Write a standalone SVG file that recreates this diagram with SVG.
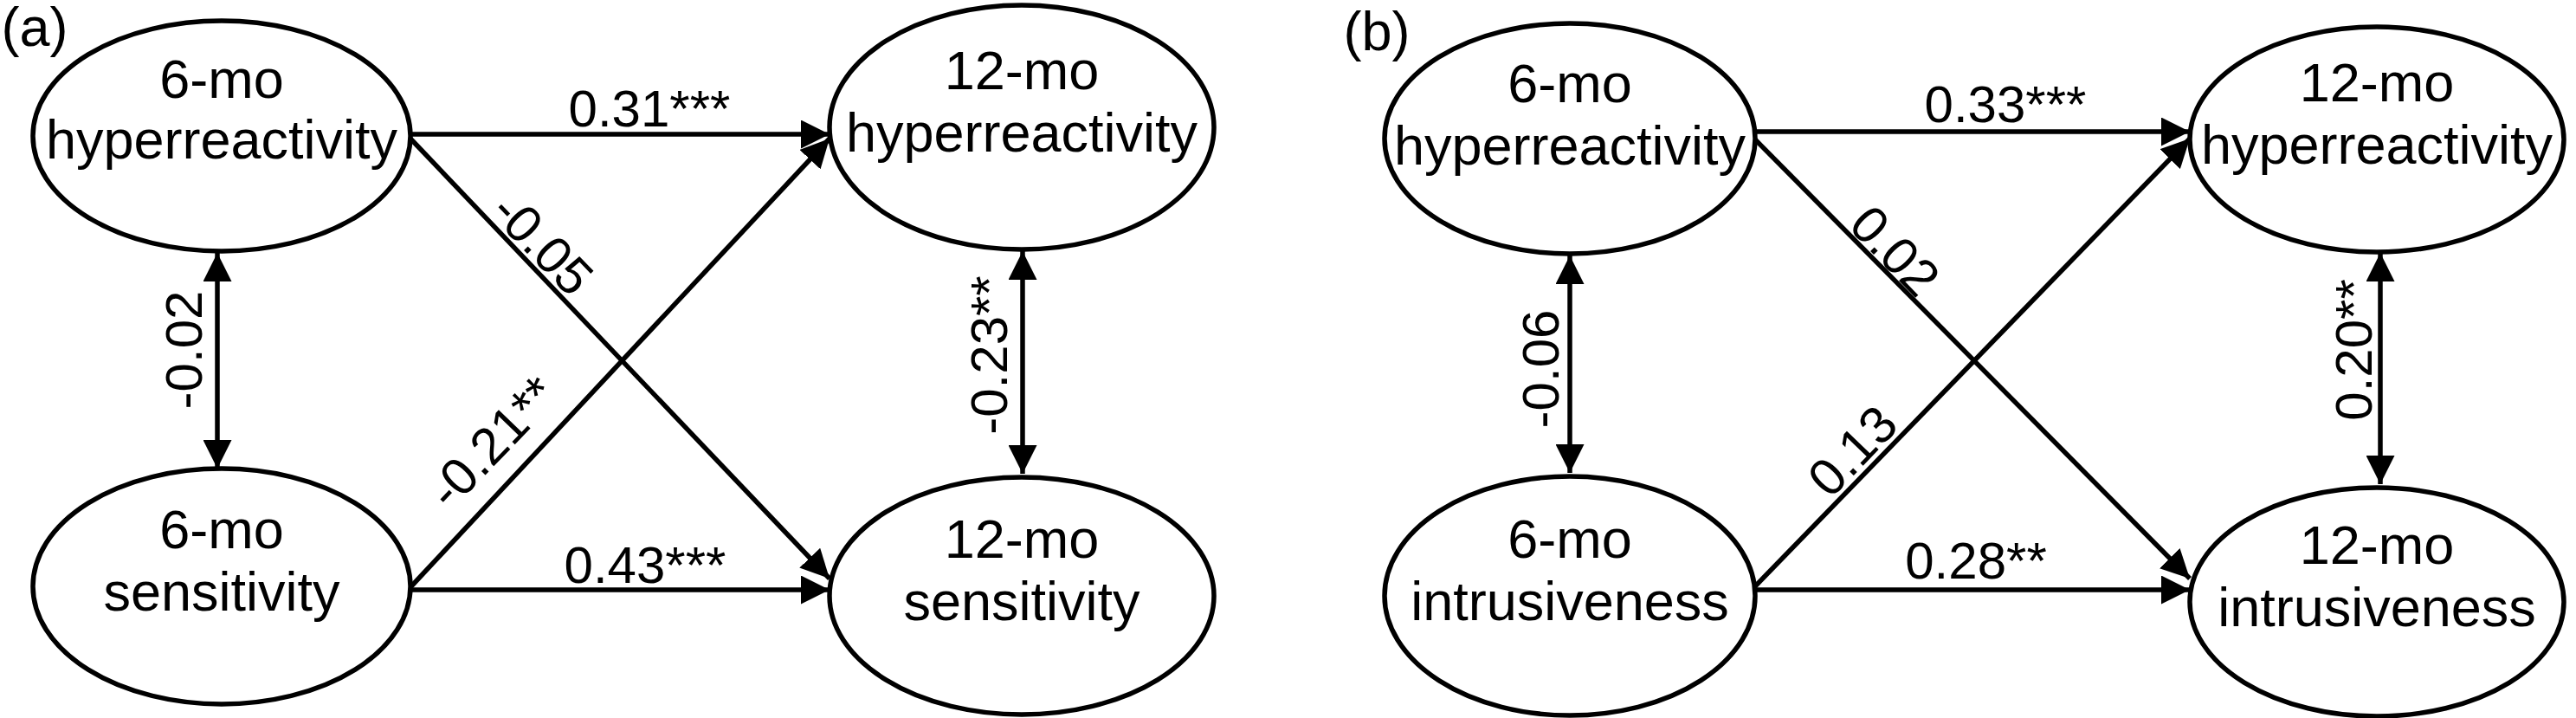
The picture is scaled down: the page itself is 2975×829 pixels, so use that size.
<svg xmlns="http://www.w3.org/2000/svg" width="2975" height="829" viewBox="0 0 2975 829">
<style>
.n{fill:#fff;stroke:#000;stroke-width:5.5}
.t{font-family:"Liberation Sans",Arial,sans-serif;font-size:63px;fill:#000;text-anchor:middle}
.l{font-family:"Liberation Sans",Arial,sans-serif;font-size:60px;fill:#000;text-anchor:middle}
.c{stroke:#000;stroke-width:5.5;fill:none}
</style>
<defs>
<marker id="a" viewBox="0 0 10 10" refX="10" refY="5" markerWidth="6" markerHeight="6" markerUnits="strokeWidth" orient="auto-start-reverse"><path d="M0,0L10,5L0,10z" fill="#000"/></marker>
</defs>
<rect width="2975" height="829" fill="#fff"/>
<text class="t" x="40" y="53">(a)</text>
<text class="t" x="1590" y="58">(b)</text>
<g id="connectors">
<line class="c" x1="474" y1="155" x2="958" y2="155" marker-end="url(#a)"/>
<line class="c" x1="474" y1="681" x2="958" y2="681" marker-end="url(#a)"/>
<line class="c" x1="474" y1="160" x2="958" y2="668" marker-end="url(#a)"/>
<line class="c" x1="474" y1="678" x2="958" y2="160" marker-end="url(#a)"/>
<line class="c" x1="251" y1="292" x2="251" y2="541" marker-start="url(#a)" marker-end="url(#a)"/>
<line class="c" x1="1181" y1="290" x2="1181" y2="547" marker-start="url(#a)" marker-end="url(#a)"/>
<line class="c" x1="2026" y1="152" x2="2529" y2="152" marker-end="url(#a)"/>
<line class="c" x1="2026" y1="681" x2="2529" y2="681" marker-end="url(#a)"/>
<line class="c" x1="2026" y1="160" x2="2529" y2="668" marker-end="url(#a)"/>
<line class="c" x1="2026" y1="678" x2="2529" y2="160" marker-end="url(#a)"/>
<line class="c" x1="1813" y1="295" x2="1813" y2="546" marker-start="url(#a)" marker-end="url(#a)"/>
<line class="c" x1="2749" y1="292" x2="2749" y2="559" marker-start="url(#a)" marker-end="url(#a)"/>
</g>
<g id="labels">
<text class="l" x="750" y="146">0.31***</text>
<text class="l" x="745" y="673">0.43***</text>
<text class="l" transform="translate(626,282) rotate(46)" y="20">-0.05</text>
<text class="l" transform="translate(569,511) rotate(-46)" y="20">-0.21**</text>
<text class="l" transform="translate(213,404) rotate(-90)" y="20">-0.02</text>
<text class="l" transform="translate(1143,410) rotate(-90)" y="20">-0.23**</text>
<text class="l" x="2316" y="141">0.33***</text>
<text class="l" x="2282" y="668">0.28**</text>
<text class="l" transform="translate(2188,290) rotate(46)" y="20">0.02</text>
<text class="l" transform="translate(2140,521) rotate(-46)" y="20">0.13</text>
<text class="l" transform="translate(1780,426) rotate(-90)" y="20">-0.06</text>
<text class="l" transform="translate(2719,404) rotate(-90)" y="20">0.20**</text>
</g>
<g id="a-hyper6"><ellipse class="n" cx="256" cy="157" rx="218" ry="133"/><text class="t" x="256" y="113">6-mo</text><text class="t" x="256" y="183">hyperreactivity</text></g>
<g id="a-sens6"><ellipse class="n" cx="256" cy="677" rx="218" ry="136"/><text class="t" x="256" y="633">6-mo</text><text class="t" x="256" y="705">sensitivity</text></g>
<g id="a-hyper12"><ellipse class="n" cx="1180" cy="147" rx="222" ry="141"/><text class="t" x="1180" y="103">12-mo</text><text class="t" x="1180" y="175">hyperreactivity</text></g>
<g id="a-sens12"><ellipse class="n" cx="1180" cy="688" rx="222" ry="137"/><text class="t" x="1180" y="644">12-mo</text><text class="t" x="1180" y="716">sensitivity</text></g>
<g id="b-hyper6"><ellipse class="n" cx="1813" cy="160" rx="214" ry="133"/><text class="t" x="1813" y="118">6-mo</text><text class="t" x="1813" y="190">hyperreactivity</text></g>
<g id="b-intr6"><ellipse class="n" cx="1813" cy="688" rx="214" ry="138"/><text class="t" x="1813" y="644">6-mo</text><text class="t" x="1813" y="716">intrusiveness</text></g>
<g id="b-hyper12"><ellipse class="n" cx="2745" cy="161" rx="216" ry="130"/><text class="t" x="2745" y="117">12-mo</text><text class="t" x="2745" y="189">hyperreactivity</text></g>
<g id="b-intr12"><ellipse class="n" cx="2745" cy="695" rx="216" ry="132"/><text class="t" x="2745" y="651">12-mo</text><text class="t" x="2745" y="723">intrusiveness</text></g>
</svg>
